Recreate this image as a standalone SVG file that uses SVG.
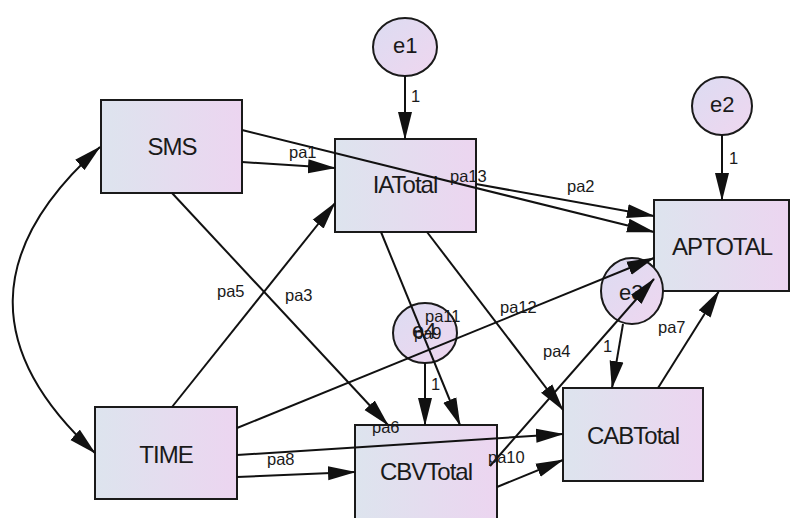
<svg xmlns="http://www.w3.org/2000/svg" width="790" height="518" viewBox="0 0 790 518">
<defs>
<linearGradient id="g" x1="0" y1="0" x2="1" y2="0">
<stop offset="0" stop-color="#dde4ee"/>
<stop offset="1" stop-color="#ecd5f0"/>
</linearGradient>
<linearGradient id="gc" x1="0" y1="0" x2="1" y2="1">
<stop offset="0" stop-color="#dcdcf2"/>
<stop offset="1" stop-color="#efd6ef"/>
</linearGradient>
<marker id="ah" markerUnits="userSpaceOnUse" markerWidth="28" markerHeight="15" refX="27" refY="7" orient="auto-start-reverse" viewBox="0 0 28 14">
<path d="M0,0 L28,7 L0,14 z" fill="#111"/>
</marker>
<style>
.box{fill:url(#g);stroke:#1a1a1a;stroke-width:2}
.circ{fill:url(#gc);stroke:#1a1a1a;stroke-width:2}
.nt{font-family:"Liberation Sans",Arial,sans-serif;font-size:24px;letter-spacing:-1px;fill:#1a1a1a;text-anchor:middle}
.et{font-family:"Liberation Sans",Arial,sans-serif;font-size:22px;fill:#1a1a1a}
.lb{font-family:"Liberation Sans",Arial,sans-serif;font-size:16.5px;fill:#1a1a1a}
.c{fill:none;stroke:#111;stroke-width:2;marker-end:url(#ah)}
</style>
</defs>
<rect width="790" height="518" fill="#ffffff"/>
<g id="SMS"><rect class="box" x="101" y="100" width="141" height="93"/><text class="nt" x="172" y="155">SMS</text></g>
<g id="IATotal"><rect class="box" x="335" y="139" width="141" height="93"/><text class="nt" x="405" y="193">IATotal</text></g>
<g id="APTOTAL"><rect class="box" x="654" y="200" width="135" height="91"/><text class="nt" x="722" y="255">APTOTAL</text></g>
<g id="TIME"><rect class="box" x="95" y="407" width="142" height="92"/><text class="nt" x="166" y="463">TIME</text></g>
<g id="CBVTotal"><rect class="box" x="355" y="425" width="142" height="96"/><text class="nt" x="426" y="480">CBVTotal</text></g>
<g id="CABTotal"><rect class="box" x="563" y="388" width="140" height="93"/><text class="nt" x="633" y="444">CABTotal</text></g>
<g id="e1"><ellipse class="circ" cx="405" cy="47" rx="32" ry="29"/><text class="et" x="393" y="53">e1</text></g>
<g id="e2"><ellipse class="circ" cx="722" cy="106" rx="30" ry="29"/><text class="et" x="710" y="112">e2</text></g>
<g id="e4"><ellipse class="circ" cx="425" cy="333" rx="32" ry="30"/><text class="et" x="412" y="338">e4</text></g>
<g id="e3"><ellipse class="circ" cx="632" cy="291" rx="31" ry="33"/><text class="et" x="619" y="300">e3</text></g>
<g id="connectors">
<path class="c" d="M242,162 L335,168"/>
<path class="c" d="M242,130 L654,232"/>
<path class="c" d="M476,184 L654,216"/>
<path class="c" d="M172,193 L388,425"/>
<path class="c" d="M172,407 L335,203"/>
<path class="c" d="M237,428 L654,258"/>
<path class="c" d="M237,455 L563,434"/>
<path class="c" d="M237,477 L355,472"/>
<path class="c" d="M497,487 L563,460"/>
<path class="c" d="M490,466 L654,279"/>
<path class="c" d="M658,388 L719,291"/>
<path class="c" d="M381,232 L460,425"/>
<path class="c" d="M427,232 L563,410"/>
<path class="c" d="M405,76 L405,139"/>
<path class="c" d="M722,135 L722,200"/>
<path class="c" d="M425,363 L425,425"/>
<path class="c" d="M623,324 L612,388"/>
<path class="c" style="marker-start:url(#ah)" d="M100,147 Q-72,300 95,453"/>
</g>
<g id="labels">
<text class="lb" x="289" y="158">pa1</text>
<text class="lb" x="450" y="182">pa13</text>
<text class="lb" x="567" y="192">pa2</text>
<text class="lb" x="217" y="297">pa5</text>
<text class="lb" x="285" y="301">pa3</text>
<text class="lb" x="425" y="322">pa11</text>
<text class="lb" x="414" y="339">pa9</text>
<text class="lb" x="500" y="313">pa12</text>
<text class="lb" x="543" y="357">pa4</text>
<text class="lb" x="658" y="333">pa7</text>
<text class="lb" x="372" y="433">pa6</text>
<text class="lb" x="267" y="465">pa8</text>
<text class="lb" x="488" y="463">pa10</text>
<text class="lb" x="411" y="102">1</text>
<text class="lb" x="729" y="164">1</text>
<text class="lb" x="431" y="390">1</text>
<text class="lb" x="603" y="352">1</text>
</g>
</svg>
